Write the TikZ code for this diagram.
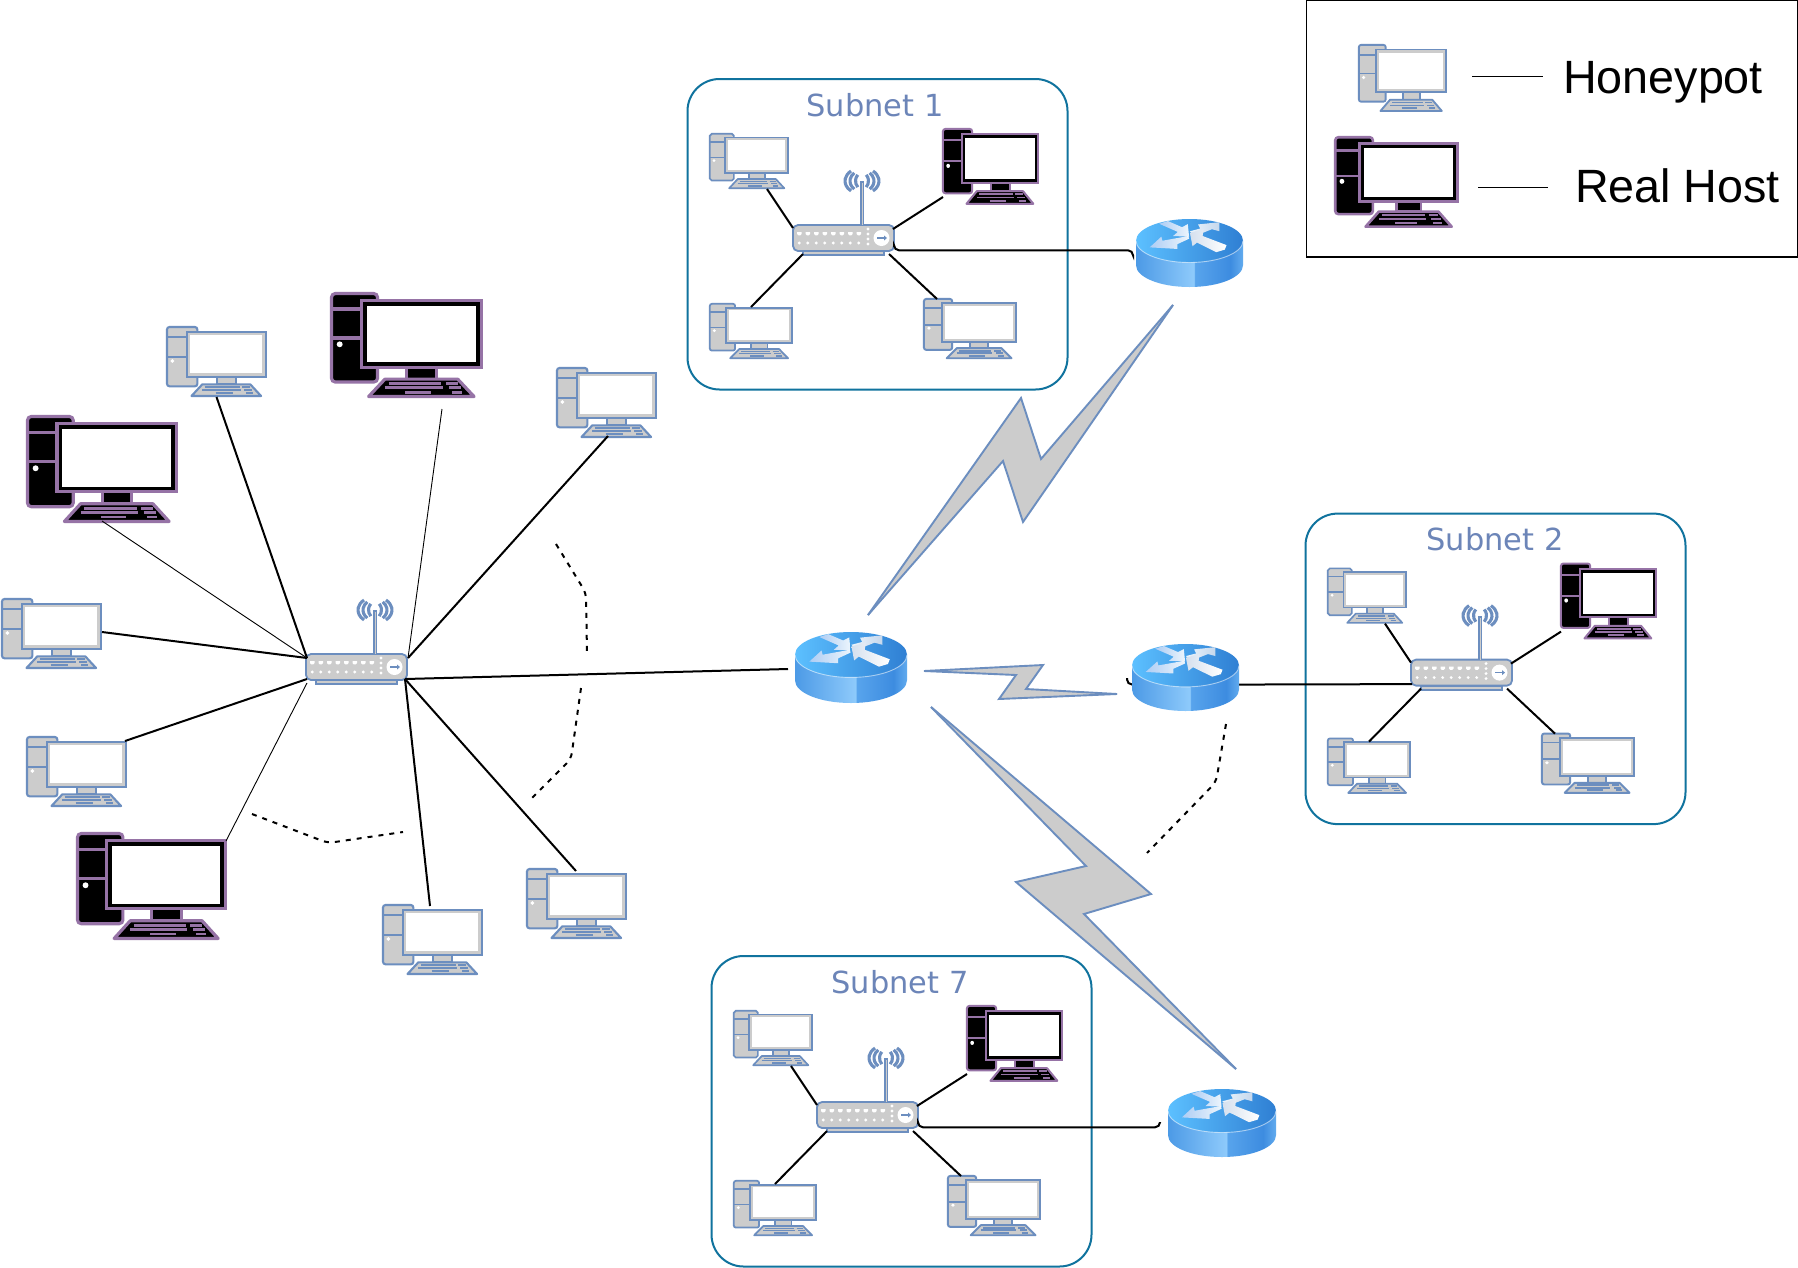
\documentclass[tikz,border=0pt]{standalone}
\usepackage{fontspec}
\setmainfont{Liberation Sans}
\newfontfamily\subfont{DejaVu Sans}
\usetikzlibrary{calc}
\definecolor{HPout}{HTML}{6C8EBF}
\definecolor{HPfill}{HTML}{CCCCCC}
\definecolor{HPbez}{HTML}{CCCCCC}
\definecolor{RHout}{HTML}{9673A6}
\definecolor{RHfill}{HTML}{000000}
\definecolor{RHbez}{HTML}{000000}
\definecolor{boxc}{HTML}{10739E}
\definecolor{subtxt}{HTML}{6C85B8}
\definecolor{rs1}{HTML}{4C9AE6}
\definecolor{rs2}{HTML}{8ECAFB}
\definecolor{rs3}{HTML}{58A4EC}
\definecolor{rs5}{HTML}{3D8CE0}
\definecolor{rs6}{HTML}{62ABEE}
\definecolor{rtopl}{HTML}{5CC0FF}
\definecolor{rtopr}{HTML}{2F7FD3}
\definecolor{arrA}{HTML}{B8D0F4}
\definecolor{arrB}{HTML}{D5E0EE}
\pgfdeclarehorizontalshading{routerside}{100bp}{color(0bp)=(rs1); color(25bp)=(rs1); color(52bp)=(rs2); color(52.6bp)=(rs3); color(69bp)=(rs5); color(75bp)=(rs6); color(100bp)=(rs6)}
\tikzset{
 devbox/.style={inner sep=0pt,outer sep=0pt,anchor=north west},
 link/.style={line width=2pt,black},
 thinlink/.style={line width=0.9pt,black},
 dashlink/.style={line width=2pt,black,dash pattern=on 5pt off 6pt,rounded corners=6pt},
 boltfill/.style={fill=HPfill,draw=none},
 boltedge/.style={draw=HPout,line width=1.9pt,line join=miter,miter limit=6},
 subnetbox/.style={draw=boxc,line width=2pt,rounded corners=32pt},
 sublabel/.style={text=subtxt,font=\subfont\fontsize{30.4}{34}\selectfont,inner sep=0pt},
 legendtext/.style={text=black,font=\fontsize{46.7}{52}\selectfont,inner sep=0pt,anchor=base},
}
% computer icon: name, x0,y0,x1,y1, kind (HP or RH)
\newcommand{\comp}[6]{%
 \pgfmathsetmacro\cw{(#4-#2)/101}\pgfmathsetmacro\ch{(#5-#3)/71}%
 \node[devbox,minimum width={(#4-#2)*1pt},minimum height={(#5-#3)*1pt}] (#1) at (#2,#3) {};
 \begin{scope}[shift={({#2+1*\cw},{#3+1*\cw})},x={0.98*\cw pt},y={-0.972*\ch pt},line width={2.1*\cw pt}]
  \colorlet{outc}{#6out}\colorlet{fillc}{#6fill}\colorlet{bezc}{#6bez}
  \draw[outc,fill=fillc,rounded corners={2.5*\cw pt}] (0,0) rectangle (31,61);
  \draw[outc] (0,10.7) -- (31,10.7) (0,30.7) -- (31,30.7);
  \fill[white] (5.5,35) circle [x radius=2,y radius=2];
  \draw[outc,fill=bezc] (20,5) rectangle (101,51);
  \fill[white] (23.6,8.6) rectangle (97.4,47.4);
  \draw[outc,fill=fillc] (50.7,51) rectangle (70.7,59);
  \draw[outc,fill=fillc,line join=round] (36,59) -- (85,59) -- (96,71) -- (25,71) -- cycle;
  \draw[outc,line width={1.8*\cw pt}] (38.5,62) -- (74,62) (77,62) -- (85,62)
     (36,65) -- (75,65) (79,65) -- (87,65)
     (49.5,68) -- (67,68) (81,68) -- (88,68);
 \end{scope}
}
% switch / access point icon, anchored at its top left, 101 x 87
\newcommand{\swit}[3]{%
 \node[devbox,minimum width=101pt,minimum height=87pt] (#1) at (#2,#3) {};
 \begin{scope}[shift={(#2,#3)}]
  \draw[HPout,fill=HPfill,line width=1.8pt] (10,83) rectangle (91,87);
  \draw[HPout,fill=HPfill,line width=1.8pt,rounded corners=5pt] (0,57) rectangle (101,83);
  \draw[HPout,line width=4.4pt] (69,57) -- (69,13);
  \draw[HPfill,line width=1pt] (69,57) -- (69,15);
  \foreach \r/\q in {6.5/8,12/10.5,17/13}{
   \draw[HPout,line width=3.1pt] ({69+\r*cos(130)},{13+\q*sin(130)}) arc[start angle=130,end angle=230,x radius=\r,y radius=\q];
   \draw[HPout,line width=3.1pt] ({69+\r*cos(50)},{13+\q*sin(50)}) arc[start angle=50,end angle=-50,x radius=\r,y radius=\q];
  }
  \foreach \k in {0,...,7}{
   \fill[white] ({4+8.5*\k},64) -- ++(4.5,0) -- ++(0,2) -- ++(-1.3,1.3) -- ++(-1.9,0) -- ++(-1.3,-1.3) -- cycle;
   \fill[white] ({6.2+8.5*\k},75) circle [radius=1.6];
  }
  \foreach \q in {61,66,71,76}{\fill[white] (75,\q) circle [radius=1.6];}
  \fill[white] (88.5,70) circle [radius=8];
  \draw[HPout,line width=1.2pt] (84,70) -- (92,70);
  \fill[HPout] (94,70) -- (91,67.5) -- (91,72.5) -- cycle;
  \coordinate (#1-ul) at (1,61);
  \coordinate (#1-ur) at (102,61);
  \coordinate (#1-ll) at (1,82);
  \coordinate (#1-lr) at (99,82);
 \end{scope}
}
% router icon
\newcommand{\rout}[5]{%
 \pgfmathsetmacro\cw{(#4-#2)/100}\pgfmathsetmacro\ch{(#5-#3)/100}%
 \node[devbox,minimum width={(#4-#2)*1pt},minimum height={(#5-#3)*1pt}] (#1) at (#2,#3) {};
 \begin{scope}[shift={(#2,#3)},x=\cw pt,y=-\ch pt]
  \shade[shading=routerside] (0,32) -- (0,68) arc[start angle=180,end angle=360,x radius=50,y radius=-32] -- (100,32) -- cycle;
  \shade[left color=rtopl,right color=rtopr] (50,32) ellipse [x radius=50,y radius=32];
  \draw[white,opacity=.55,line width=0.9pt] (0,32) arc[start angle=180,end angle=360,x radius=50,y radius=-32];
  \shade[left color=arrA,right color=white,opacity=.9] (21.7,7) -- (29.7,3) -- (43,12) -- (48.4,7.6) -- (49.6,26) -- (34.7,25) -- (39,19) -- cycle;
  \shade[left color=arrA,right color=white,opacity=.9] (12.8,41.7) -- (23.7,26) -- (24.6,32) -- (49,25) -- (49.6,29) -- (38.6,37) -- (38.6,44) -- cycle;
  \shade[left color=white,right color=arrB,opacity=.9] (50.4,18) -- (60,14) -- (58,8) -- (78,4.7) -- (78,18) -- (71,15) -- (55,25) -- cycle;
  \shade[left color=arrB,right color=white] (50.4,20.4) -- (63.2,14.7) -- (62.3,25) -- (84.6,38.4) -- (83,45) -- (75,48.8) -- (57,34.6) -- (52.8,40) -- cycle;
 \end{scope}
}
% subnet group: prefix, dx, dy, label, label x
\newcommand{\subnetgroup}[5]{%
 \begin{scope}[shift={(#2,#3)}]
  \node[devbox,minimum width=380pt,minimum height=311pt] (#1box) at (687.5,79) {};
  \draw[subnetbox] (687.5,79) rectangle (1067.5,389.5);
  \node[sublabel] (#1label) at (#5,105) {#4};
  \comp{#1a}{709}{133}{789}{189}{HP}
  \comp{#1b}{942}{128}{1039}{205}{RH}
  \comp{#1c}{709}{303}{793}{359}{HP}
  \comp{#1d}{923}{298}{1017}{359}{HP}
  \swit{#1s}{793}{168}
  \draw[link] ([shift={(58,56)}]#1a.north west) -- ([shift={(0,60)}]#1s.north west);
  \draw[link] ([shift={(1,69)}]#1b.north west) -- ([shift={(100,61)}]#1s.north west);
  \draw[link] ([shift={(10,86)}]#1s.north west) -- ([shift={(42,4)}]#1c.north west);
  \draw[link] ([shift={(96,86)}]#1s.north west) -- ([shift={(14,1)}]#1d.north west);
 \end{scope}
}
\begin{document}
\begin{tikzpicture}[x=1pt,y=-1pt]
\useasboundingbox (0,0) rectangle (1798,1267);
\fill[white] (0,0) rectangle (1798,1267);

% legend
\node[devbox,minimum width=492pt,minimum height=257pt] (legend) at (1306,0) {};
\draw[black,line width=1.2pt] (1306.5,0.6) rectangle (1797.4,257);
\comp{lh}{1358}{44}{1447}{112}{HP}
\comp{lr}{1334}{136}{1459}{228}{RH}
\coordinate (lh1) at (1472,76); \coordinate (lh2) at (1543,76);
\coordinate (lr1) at (1478,187); \coordinate (lr2) at (1548,187);
\draw[thinlink] (lh1) -- (lh2);
\draw[thinlink] (lr1) -- (lr2);
\node[legendtext] (lht) at (1663,93) {Honeypot};
\node[legendtext] (lrt) at (1677.5,202) {Real Host};

% subnets
\subnetgroup{sa}{0}{0}{Subnet 1}{875}
\subnetgroup{sb}{618}{434.6}{Subnet 2}{877}
\subnetgroup{sc}{24}{877}{Subnet 7}{876}

% main cluster
\comp{h1}{166}{326}{267}{397}{HP}
\comp{m1}{330}{292}{483}{398}{RH}
\comp{h2}{556}{367}{657}{438}{HP}
\comp{m2}{26}{415}{178}{523}{RH}
\comp{h3}{1}{598}{102}{669}{HP}
\comp{h4}{26}{736}{127}{807}{HP}
\comp{m3}{76}{832}{227}{940}{RH}
\comp{h5}{382}{904}{483}{975}{HP}
\comp{h6}{526}{868}{627}{939}{HP}
\swit{sw}{306}{597}

\draw[link] (h1.south) -- (sw-ul);
\draw[thinlink] ([shift={(112,117)}]m1.north west) -- (sw-ur);
\draw[link] ([shift={(52,69)}]h2.north west) -- (sw-ur);
\draw[thinlink] ([shift={(76,106)}]m2.north west) -- (sw-ul);
\draw[link] ([shift={(101,34)}]h3.north west) -- (sw-ul);
\draw[link] ([shift={(99,5)}]h4.north west) -- (sw-ll);
\draw[thinlink] ([shift={(150,9)}]m3.north west) -- ([shift={(0,4)}]sw-ll);
\draw[link] ([shift={(48,2)}]h5.north west) -- (sw-lr);
\draw[link] ([shift={(50,3)}]h6.north west) -- (sw-lr);

% routers
\coordinate (l0) at (788,669);
\draw[link] (sw-lr) -- (l0);

% uplinks, under the routers
\draw[link,rounded corners=5pt] ([shift={(101,79)}]sas.north west) -- ([shift={(101,82.3)}]sas.north west) -- (1133,250.3) -- (1133,255);
\draw[link,rounded corners=5pt] (1127,678) -- (1127,684.5) -- (1260,684.5) -- ([shift={(0,-0.5)}]sbs-ll);
\draw[link,rounded corners=5pt] ([shift={(101,79)}]scs.north west) -- ([shift={(101,82.3)}]scs.north west) -- (1160,1127.3) -- (1160,1122);

\rout{r0}{795}{632}{907}{703}
\rout{ra}{1136}{219}{1243}{287}
\rout{rb}{1132}{644}{1239}{711}
\rout{rc}{1168}{1089}{1276}{1157}

% lightning links: filled, then stroked in two open runs so the tips stay at their points
\coordinate (ba1) at (868,615); \coordinate (ba2) at (1021,398); \coordinate (ba3) at (1041,459);
\coordinate (ba4) at (1173,305); \coordinate (ba5) at (1023,522); \coordinate (ba6) at (1003,461);
\fill[boltfill] (ba1) -- (ba2) -- (ba3) -- (ba4) -- (ba5) -- (ba6) -- cycle;
\draw[boltedge] (ba1) -- (ba2) -- (ba3) -- (ba4);
\draw[boltedge] (ba4) -- (ba5) -- (ba6) -- (ba1);
\coordinate (bb1) at (924,671); \coordinate (bb2) at (1043,665); \coordinate (bb3) at (1026,689);
\coordinate (bb4) at (1117,694); \coordinate (bb5) at (999,699); \coordinate (bb6) at (1016,675);
\fill[boltfill] (bb1) -- (bb2) -- (bb3) -- (bb4) -- (bb5) -- (bb6) -- cycle;
\draw[boltedge] (bb1) -- (bb2) -- (bb3) -- (bb4);
\draw[boltedge] (bb4) -- (bb5) -- (bb6) -- (bb1);
\coordinate (bc1) at (931,707); \coordinate (bc2) at (1151,894); \coordinate (bc3) at (1084,914);
\coordinate (bc4) at (1236,1069); \coordinate (bc5) at (1016,882); \coordinate (bc6) at (1086,866);
\fill[boltfill] (bc1) -- (bc2) -- (bc3) -- (bc4) -- (bc5) -- (bc6) -- cycle;
\draw[boltedge] (bc1) -- (bc2) -- (bc3) -- (bc4);
\draw[boltedge] (bc4) -- (bc5) -- (bc6) -- (bc1);

% dashed continuation marks
\draw[dashlink] (556,544) -- (586,593) -- (587,654);
\draw[dashlink] (581,688) -- (571,759) -- (531,799);
\draw[dashlink] (252,814) -- (328,843) -- (403,832);
\draw[dashlink] (1226,724) -- (1216,782) -- (1147,853);
\end{tikzpicture}
\end{document}
